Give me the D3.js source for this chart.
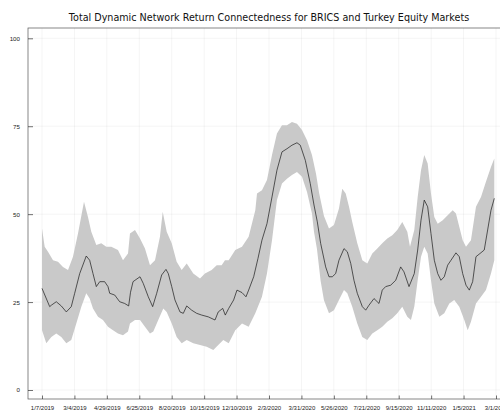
<!DOCTYPE html>
<html>
<head>
<meta charset="utf-8">
<script src="https://cdn.jsdelivr.net/npm/d3@7"></script>
<style>
  body { margin: 0; background: #fff; }
  svg { display: block; font-family: "DejaVu Sans", sans-serif; }
</style>
</head>
<body>
<svg id="chart" width="500" height="410"></svg>
<script>
// tick labels on the x axis, one every 40 observations
const dateLabels = ["1/7/2019", "3/4/2019", "4/29/2019", "6/25/2019", "8/20/2019",
  "10/15/2019", "12/10/2019", "2/3/2020", "3/31/2020", "5/26/2020", "7/21/2020",
  "9/15/2020", "11/11/2020", "1/5/2021", "3/1/2021"];
const yTicks = [0, 25, 50, 75, 100];

const meanSeries = [
  [0, 28.9], [9.5, 23.7], [11.5, 24.1], [17.6, 25.1], [23.8, 23.9], [30, 22.2],
  [36.1, 23.7], [40.3, 27.5], [46.5, 33.1], [54.6, 38.1], [58.8, 36.9], [62.9, 33.1],
  [67, 29.4], [71.2, 30.8], [77.3, 30.8], [81.4, 29.4], [83.5, 27.5], [89.7, 27.0],
  [95.8, 25.1], [102, 24.6], [106.9, 23.9], [109.2, 27.8], [112.3, 30.8], [114.7, 31.2],
  [120.9, 32.2], [124.9, 30.3], [131.1, 26.5], [136.5, 23.7], [141.5, 27.5], [147.6, 32.7],
  [152.9, 34.3], [155.8, 33.1], [160, 29.4], [164, 25.6], [170.2, 22.2], [174.3, 21.8],
  [178.5, 23.9], [184.6, 22.7], [190.8, 21.8], [197, 21.3], [205.1, 20.8], [213.4, 19.9],
  [217.4, 22.2], [222.9, 23.2], [226.1, 21.3], [230.3, 23.2], [236.4, 25.6], [240.5, 28.4],
  [246.7, 27.7], [251.6, 26.5], [254.9, 28.4], [261.1, 32.2], [266.4, 37.4], [271.3, 42.6],
  [277.5, 47.3], [283.7, 54.9], [289.8, 62.5], [296, 67.7], [302.2, 68.6], [308.3, 69.6],
  [314.5, 70.3], [318.6, 69.6], [324.8, 65.3], [330.9, 58.7], [335.5, 52.6], [339.6, 47.8],
  [343.7, 41.7], [349.9, 35.0], [354, 32.2], [358.1, 32.2], [362.2, 33.1], [366.3, 36.9],
  [372.5, 40.2], [376.6, 39.3], [380.8, 36.0], [384.8, 31.2], [388.9, 27.5], [395.1, 23.7],
  [399.3, 22.7], [403.3, 24.1], [409.5, 26.0], [415.7, 24.6], [419.7, 28.4], [423.9, 29.4],
  [430.1, 29.8], [436.3, 31.2], [442.4, 35.0], [446.5, 33.6], [452.7, 29.4], [459.2, 33.1],
  [463.4, 39.8], [467.5, 48.3], [471.5, 54.0], [475.7, 52.1], [479.8, 44.5], [483.9, 36.9],
  [488.1, 33.1], [492.1, 31.2], [496.2, 32.2], [500.4, 35.5], [504.5, 36.9], [510.6, 39.0],
  [514.7, 37.9], [518.9, 33.1], [523, 29.8], [527.1, 28.4], [531.2, 30.8], [535.3, 37.9],
  [540.2, 38.8], [545.5, 39.8], [549.7, 45.5], [553.8, 51.1], [557.9, 54.5]
];

const upperSeries = [
  [0, 45.9], [3.3, 40.7], [7.4, 39.3], [13.6, 36.9], [19.7, 36.5], [25.9, 35.0],
  [32.1, 34.1], [38.2, 37.9], [44.4, 44.5], [51.8, 53.5], [56.7, 49.2], [60.8, 45.0],
  [67, 41.2], [73.1, 41.7], [79.3, 40.7], [85.5, 40.7], [93.7, 39.8], [99.9, 36.9],
  [106.1, 38.8], [108.5, 44.5], [114.7, 45.5], [120.9, 43.1], [127, 40.2], [133.2, 35.5],
  [139.4, 36.9], [145.5, 43.6], [148.9, 50.7], [153.8, 45.0], [160, 41.7], [166.1, 36.5],
  [172.3, 34.1], [178.5, 36.0], [186.6, 33.1], [194.9, 31.7], [201, 33.1], [209.3, 34.1],
  [215.5, 35.5], [221.6, 35.5], [225.7, 36.9], [230.3, 36.9], [238.4, 39.8], [246.7, 40.7],
  [254.9, 43.6], [263.1, 51.1], [265.2, 55.9], [271.3, 56.8], [277.5, 59.7], [283.7, 66.8],
  [289.8, 72.9], [296, 75.3], [302.2, 75.3], [308.3, 76.2], [314.5, 75.7], [320.7, 73.9],
  [326.9, 71.0], [333, 66.8], [338, 61.5], [341.8, 56.0], [347.8, 49.5], [354, 45.9],
  [360.1, 46.9], [366.3, 51.6], [370.4, 57.2], [374.6, 55.9], [378.7, 52.1], [382.7, 47.8],
  [388.9, 41.7], [395.1, 36.9], [401.2, 36.0], [407.4, 38.8], [413.6, 40.2], [419.7, 41.7],
  [425.9, 43.1], [432.1, 44.0], [438.2, 45.5], [444.4, 47.8], [450.6, 45.0], [453.9, 40.7],
  [459.2, 45.5], [463.4, 54.9], [467.5, 62.5], [471.5, 66.8], [475.7, 64.4], [479.8, 55.9],
  [483.9, 49.2], [488.1, 47.3], [494.3, 48.3], [500.4, 49.7], [506.6, 51.1], [510.6, 50.2],
  [514.7, 46.4], [518.9, 42.6], [523, 40.7], [529.1, 42.6], [535.3, 52.1], [541.5, 54.9],
  [547.6, 59.2], [553.8, 63.4], [557.9, 65.8]
];

const lowerSeries = [
  [0, 17.0], [5.3, 13.3], [11.5, 15.1], [17.6, 16.1], [23.8, 15.1], [30, 13.3],
  [36.1, 14.2], [42.3, 18.9], [48.5, 23.7], [54.6, 27.5], [58.8, 26.0], [62.9, 23.2],
  [69.1, 20.8], [75.2, 19.9], [81.4, 18.0], [87.6, 17.0], [93.7, 16.1], [99.9, 15.6],
  [106.1, 16.6], [108.5, 18.9], [114.7, 19.9], [120.9, 19.9], [127, 18.0], [133.2, 16.1],
  [137.3, 16.6], [143.4, 19.9], [149.6, 23.2], [153.8, 22.2], [160, 18.9], [166.1, 15.1],
  [172.3, 13.3], [178.5, 14.2], [186.6, 13.3], [194.9, 12.8], [203.1, 12.3], [211.3, 11.4],
  [217.4, 12.8], [223.6, 14.2], [230.3, 13.3], [238.4, 17.0], [246.7, 18.9], [254.9, 18.0],
  [263.1, 21.8], [271.3, 26.5], [277.5, 33.1], [283.7, 42.6], [289.8, 54.0], [296, 58.7],
  [302.2, 60.1], [308.3, 61.1], [314.5, 62.0], [320.7, 60.6], [326.9, 56.3], [333, 50.2],
  [335.5, 45.0], [339.2, 40.0], [343.7, 31.0], [347.8, 25.5], [354, 21.8], [360.1, 22.7],
  [366.3, 25.6], [372.5, 28.4], [376.6, 27.5], [382.7, 23.7], [388.9, 18.9], [395.1, 15.1],
  [401.2, 14.2], [407.4, 16.1], [413.6, 17.0], [419.7, 18.0], [425.9, 19.4], [432.1, 20.4],
  [438.2, 21.8], [444.4, 23.7], [450.6, 20.8], [455.1, 19.9], [459.2, 23.7], [463.4, 31.2],
  [467.5, 37.9], [471.5, 40.7], [475.7, 38.8], [479.8, 31.2], [483.9, 24.6], [490.1, 20.8],
  [496.2, 21.8], [502.4, 24.6], [508.5, 25.6], [514.7, 23.7], [520.9, 19.9], [525.1, 17.0],
  [529.1, 19.4], [535.3, 24.6], [541.5, 26.5], [547.6, 28.4], [553.8, 33.1], [557.9, 36.9]
];

const svg = d3.select('#chart');

const frame = { left: 28, top: 28, right: 512, bottom: 399 };

const x = d3.scaleLinear()
  .domain([0, (dateLabels.length - 1) * 40])
  .range([42, 496]);

const y = d3.scaleLinear()
  .domain([0, 100])
  .range([390, 38.3]);

// grid lines
const grid = svg.append('g');
grid.selectAll('.vgrid')
  .data(dateLabels)
  .enter()
  .append('line')
  .attr('x1', (d, i) => x(i * 40))
  .attr('x2', (d, i) => x(i * 40))
  .attr('y1', frame.top)
  .attr('y2', frame.bottom)
  .attr('stroke', '#000')
  .attr('stroke-opacity', 0.08)
  .attr('stroke-width', 0.6);
grid.selectAll('.hgrid')
  .data(yTicks)
  .enter()
  .append('line')
  .attr('x1', frame.left)
  .attr('x2', frame.right)
  .attr('y1', d => y(d))
  .attr('y2', d => y(d))
  .attr('stroke', '#000')
  .attr('stroke-opacity', 0.08)
  .attr('stroke-width', 0.6);

// ribbon: upper edge forward, lower edge back
const ribbon = upperSeries.concat(lowerSeries.slice().reverse());
const edge = d3.line().x(d => x(d[0])).y(d => y(d[1]));
svg.append('path')
  .attr('d', edge(ribbon) + 'Z')
  .attr('fill', '#c9c9c9')
  .attr('stroke', 'none');

// mean line
svg.append('path')
  .datum(meanSeries)
  .attr('d', edge)
  .attr('fill', 'none')
  .attr('stroke', '#1a1a1a')
  .attr('stroke-width', 0.7);

// frame
svg.append('rect')
  .attr('x', frame.left)
  .attr('y', frame.top)
  .attr('width', frame.right - frame.left)
  .attr('height', frame.bottom - frame.top)
  .attr('fill', 'none')
  .attr('stroke', '#555')
  .attr('stroke-width', 0.7);

// x axis ticks and labels
const xAxis = d3.axisBottom(x)
  .tickValues(dateLabels.map((d, i) => i * 40))
  .tickFormat((d, i) => dateLabels[i])
  .tickSizeInner(-3.5)
  .tickSizeOuter(0)
  .tickPadding(7);
const gx = svg.append('g')
  .attr('transform', `translate(0,${frame.bottom})`)
  .call(xAxis);
gx.select('.domain').remove();
gx.selectAll('line').attr('stroke', '#333').attr('stroke-width', 0.7);
gx.selectAll('text')
  .attr('font-size', 6)
  .attr('fill', '#222')
  .attr('font-family', '"Liberation Sans", sans-serif');

// y axis ticks and labels
const yAxis = d3.axisLeft(y)
  .tickValues(yTicks)
  .tickSizeInner(-5)
  .tickSizeOuter(0)
  .tickPadding(8);
const gy = svg.append('g')
  .attr('transform', `translate(${frame.left},0)`)
  .call(yAxis);
gy.select('.domain').remove();
gy.selectAll('line').attr('stroke', '#333').attr('stroke-width', 0.7);
gy.selectAll('text')
  .attr('font-size', 6.2)
  .attr('fill', '#222')
  .attr('font-family', '"Liberation Sans", sans-serif');

// title
svg.append('text')
  .attr('x', 269)
  .attr('y', 21)
  .attr('text-anchor', 'middle')
  .attr('font-size', 9.6)
  .attr('fill', '#111')
  .text('Total Dynamic Network Return Connectedness for BRICS and Turkey Equity Markets');
</script>
</body>
</html>
